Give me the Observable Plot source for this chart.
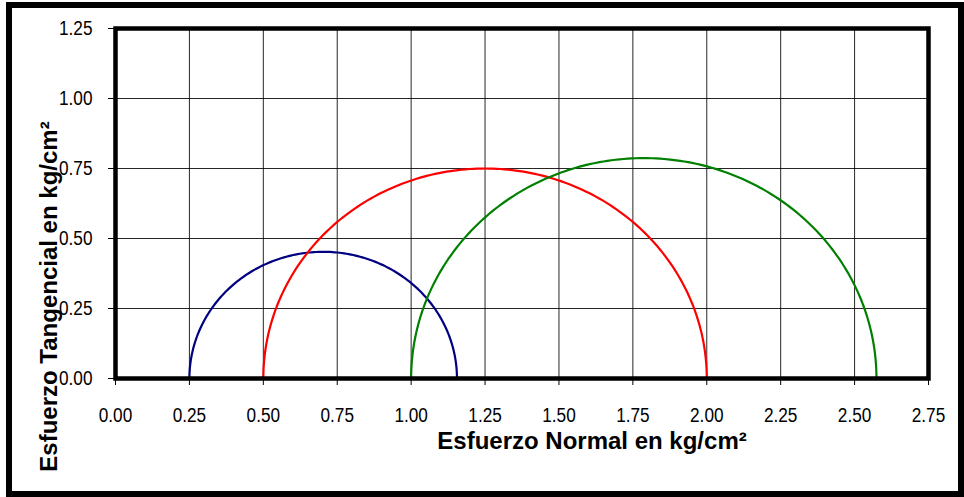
<!DOCTYPE html>
<html>
<head>
<meta charset="utf-8">
<script src="https://cdn.jsdelivr.net/npm/d3@7"></script>
<script src="https://cdn.jsdelivr.net/npm/@observablehq/plot@0.6"></script>
<style>
  html, body { margin: 0; padding: 0; background: #fff; }
  #wrap { position: relative; width: 964px; height: 497px; overflow: hidden; }
  #border { position: absolute; left: 6px; top: 2px; width: 958px; height: 495px; box-sizing: border-box; border: 6px solid #000; pointer-events: none; }
  svg { display: block; }
</style>
</head>
<body>
<div id="wrap"><div id="border"></div></div>
<script>
// Mohr circles: minor and major principal stresses (kg/cm²)
const ensayos = ["Ensayo 1", "Ensayo 2", "Ensayo 3"];
const sigma3 = [0.25, 0.50, 1.00];
const sigma1 = [1.155, 2.00, 2.574];
const colores = ["#000080", "#ff0000", "#008000"];
const xTicks = [0, 0.25, 0.5, 0.75, 1, 1.25, 1.5, 1.75, 2, 2.25, 2.5, 2.75];
const yTicks = [0, 0.25, 0.5, 0.75, 1, 1.25];
const xTitle = "Esfuerzo Normal en kg/cm²";
const yTitle = "Esfuerzo Tangencial en kg/cm²";

// semicircle geometry from each circle's sigma3 / sigma1
const pts = [];
ensayos.forEach((e, i) => {
  const c = (sigma1[i] + sigma3[i]) / 2, r = (sigma1[i] - sigma3[i]) / 2;
  for (let k = 0; k <= 180; k++) {
    const a = Math.PI * (1 - k / 180);
    pts.push({ensayo: e, x: c + r * Math.cos(a), y: r * Math.sin(a)});
  }
});

const font = "'Liberation Sans', Arial, sans-serif";

const chart = Plot.plot({
  width: 964,
  height: 497,
  marginLeft: 115,
  marginRight: 36,
  marginTop: 28,
  marginBottom: 119,
  style: {fontFamily: font, background: "transparent", overflow: "visible"},
  x: {domain: [0, 2.75]},
  y: {domain: [0, 1.25]},
  color: {domain: ensayos, range: colores},
  marks: [
    Plot.gridX(xTicks, {stroke: "#000", strokeOpacity: 0.85, strokeWidth: 1}),
    Plot.gridY(yTicks, {stroke: "#000", strokeOpacity: 0.85, strokeWidth: 1}),
    Plot.axisX({ticks: xTicks, tickFormat: d3.format(".2f"), tickSize: 7, tickPadding: 22, fontSize: 20, label: null, className: "tk"}),
    Plot.axisY({ticks: yTicks, tickFormat: d3.format(".2f"), tickSize: 7, tickPadding: 16, fontSize: 20, label: null, className: "tk"}),
    Plot.line(pts, {x: "x", y: "y", z: "ensayo", stroke: "ensayo", strokeWidth: 2.2}),
    Plot.frame({stroke: "#000", strokeWidth: 4.5}),
    Plot.text([xTitle], {text: d => d, frameAnchor: "bottom", textAnchor: "middle", dx: 70, dy: 63, lineAnchor: "middle", fontSize: 24, fontWeight: "bold", fill: "#000"}),
    Plot.text([yTitle], {text: d => d, frameAnchor: "left", textAnchor: "middle", rotate: -90, dx: -66, dy: 93, lineAnchor: "middle", fontSize: 24, fontWeight: "bold", fill: "#000"})
  ]
});
document.getElementById("wrap").prepend(chart);

// narrow the tick labels (reference uses a condensed face)
chart.querySelectorAll("g[aria-label$='tick label'] text").forEach(t => {
  const L = t.getComputedTextLength();
  t.setAttribute("textLength", (L * 0.86).toFixed(2));
  t.setAttribute("lengthAdjust", "spacingAndGlyphs");
});
</script>
</body>
</html>
